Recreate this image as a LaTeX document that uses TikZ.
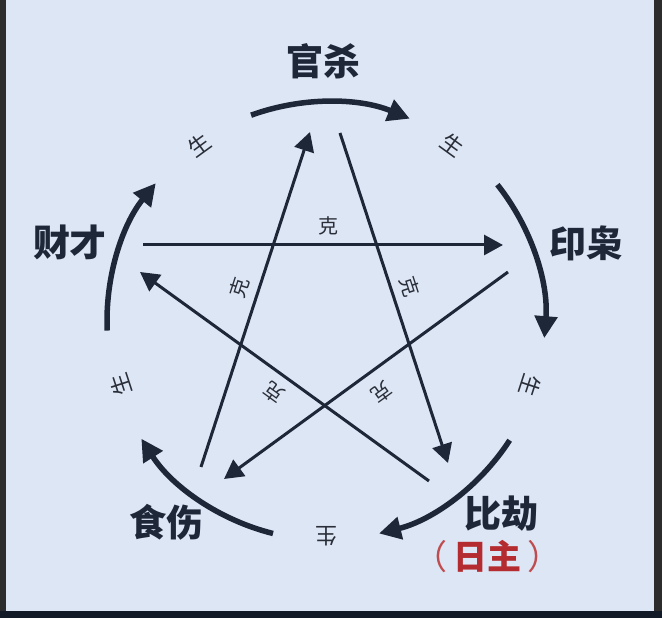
\documentclass[tikz,border=0pt]{standalone}
\usepackage{fontspec}
\newfontfamily\cjk{Noto Sans CJK SC}
\usetikzlibrary{arrows.meta,positioning}
\definecolor{bgblue}{RGB}{221,230,245}
\definecolor{inkblue}{RGB}{30,39,56}
\definecolor{inkgray}{RGB}{42,46,56}
\definecolor{framegray}{RGB}{44,44,44}
\definecolor{framenavy}{RGB}{18,26,40}
\definecolor{dayred}{RGB}{180,44,48}

\begin{document}
\begin{tikzpicture}[x=1pt,y=1pt,
every node/.style={inner sep=0pt,text=inkblue},
elem/.style={font=\cjk\bfseries\fontsize{37}{37}\selectfont},
ke/.style={font=\cjk\fontsize{20}{20}\selectfont,text=inkgray},
sheng/.style={font=\cjk\fontsize{22}{22}\selectfont,text=inkgray},
kearrow/.style={draw=inkblue,line width=3pt,-{Triangle[length=19pt,width=20pt]}},
arcarrow/.style={draw=inkblue,line width=5.5pt,-{Triangle[length=22pt,width=22pt]}}]
\useasboundingbox (0,0) rectangle (662,618);
\fill[bgblue] (0,0) rectangle (662,618);
\fill[framegray] (0,0) rectangle (6,618);
\fill[framegray] (654,0) rectangle (662,618);
\fill[framenavy] (0,0) rectangle (662,7);

% five elements
\node[elem] (Guan) at (323,557) {官杀};
\node[elem] (Yin) at (586,375) {印枭};
\node[elem] (Bi) at (501,104) {比劫};
\node[elem] (Shi) at (166,96) {食伤};
\node[elem] (Cai) at (70,376) {财才};
\node[font=\cjk\fontsize{34}{34}\selectfont,text=dayred!85] (Ri) at (487,61)
  {（\hspace{6pt}{\bfseries\color{dayred}日主}\hspace{6pt}）};

% sheng cycle
\coordinate (C) at (326,297);
\draw[arcarrow] (C) ++(110:219) arc[start angle=110,end angle=67.5,radius=219];
\draw[arcarrow] (C) ++(38.5:219) arc[start angle=38.5,end angle=-4.5,radius=219];
\draw[arcarrow] (C) ++(-33:219) arc[start angle=-33,end angle=-76,radius=219];
\draw[arcarrow] (C) ++(-104:219) arc[start angle=-104,end angle=-147.5,radius=219];
\draw[arcarrow] (C) ++(182.5:219) arc[start angle=182.5,end angle=141,radius=219];
\node[sheng,rotate=36] (G1) at (199,473) {生};
\node[sheng,rotate=-36] (G2) at (453,473) {生};
\node[sheng,rotate=-108] (G3) at (530,232) {生};
\node[sheng,rotate=180] (G4) at (326,82) {生};
\node[sheng,rotate=108] (G5) at (121,233) {生};

% ke star
\coordinate (a1) at (143,373); \coordinate (b1) at (503,373);
\coordinate (a2) at (340,485); \coordinate (b2) at (448,155);
\coordinate (a3) at (508,346); \coordinate (b3) at (224,139);
\coordinate (a4) at (429,137); \coordinate (b4) at (140,346);
\coordinate (a5) at (201,151); \coordinate (b5) at (310,486);
\draw[kearrow] (a1)--(b1);
\draw[kearrow] (a2)--(b2);
\draw[kearrow] (a3)--(b3);
\draw[kearrow] (a4)--(b4);
\draw[kearrow] (a5)--(b5);
\node[ke] (K1) at (328,392) {克};
\node[ke,rotate=-72] (K2) at (410,331) {克};
\node[ke,rotate=-144] (K3) at (382,225) {克};
\node[ke,rotate=144] (K4) at (274,225) {克};
\node[ke,rotate=72] (K5) at (239,330) {克};
\end{tikzpicture}
\end{document}
